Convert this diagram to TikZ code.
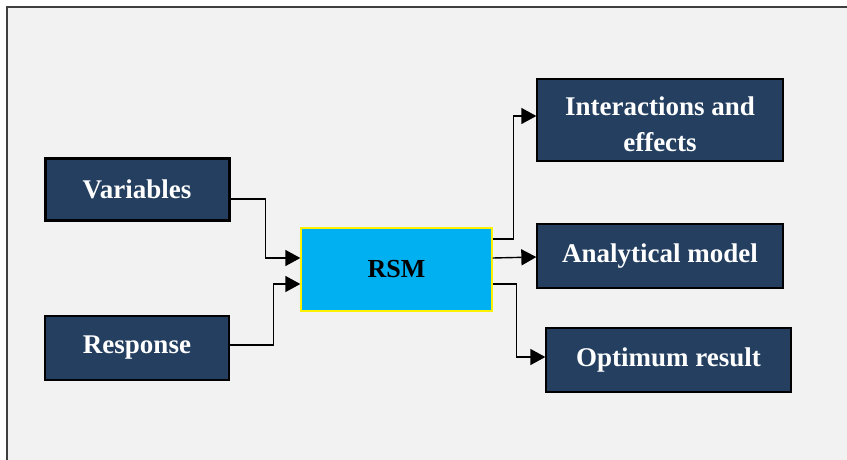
\documentclass[tikz,border=0pt]{standalone}
\usepackage{fontspec}
\setmainfont{Liberation Serif}
\usetikzlibrary{arrows.meta}
\definecolor{navy}{HTML}{243F60}
\definecolor{cyanbox}{HTML}{00B0F0}
\definecolor{bgc}{HTML}{F2F2F2}
\definecolor{framec}{HTML}{3F3F3F}
\begin{document}
\begin{tikzpicture}[x=1pt,y=-1pt,
  navybox/.style={draw=black, line width=1.3pt, fill=navy, text=white,
    font=\fontsize{27}{36}\selectfont\bfseries, align=center, inner sep=0pt},
  boxtext/.style={text=white, font=\fontsize{27}{36}\selectfont\bfseries, align=center, inner sep=0pt},
  rsmbox/.style={draw=yellow, line width=1.3pt, fill=cyanbox, text=black,
    font=\fontsize{26}{35}\selectfont\bfseries, align=center, inner sep=0pt},
  conn/.style={draw=black, line width=1.4pt, -{Triangle[length=15pt,width=16pt]}}]
\useasboundingbox (0,0) rectangle (847,459);
\clip (0,0) rectangle (847,459);
\fill[white] (0,0) rectangle (847,459);
\filldraw[fill=bgc, draw=framec, line width=1.6pt] (7,7) rectangle (870,480);

\node[navybox, line width=3pt, minimum width=184pt, minimum height=62pt] (var) at (137,189) {Variables};
\node[navybox, minimum width=184pt, minimum height=64pt] (resp) at (137,348) {Response};
\node[rsmbox, minimum width=191pt, minimum height=83pt] (rsm) at (396.5,269.5) {RSM};
\node[navybox, minimum width=246pt, minimum height=82pt] (int) at (660,120) {};
\node[boxtext] (inttext) at ([yshift=-4pt]int.center) {Interactions and\\effects};
\node[navybox, minimum width=246pt, minimum height=64pt] (ana) at (660,256) {Analytical model};
\node[navybox, minimum width=245pt, minimum height=64pt] (opt) at (668.5,360) {Optimum result};

\draw[conn] ([yshift=-10pt]var.east) -- ++(35,0) |- ([yshift=11.5pt]rsm.west);
\draw[conn] ([yshift=3pt]resp.east) -- ++(44,0) |- ([yshift=-14.5pt]rsm.west);
\draw[conn] ([yshift=30.5pt]rsm.east) -- ++(21,0) |- ([yshift=4pt]int.west);
\draw[conn] ([yshift=11.5pt]rsm.east) -- ([yshift=-1pt]ana.west);
\draw[conn] ([yshift=-14.5pt]rsm.east) -- ++(24,0) |- ([yshift=3pt]opt.west);
\end{tikzpicture}
\end{document}
